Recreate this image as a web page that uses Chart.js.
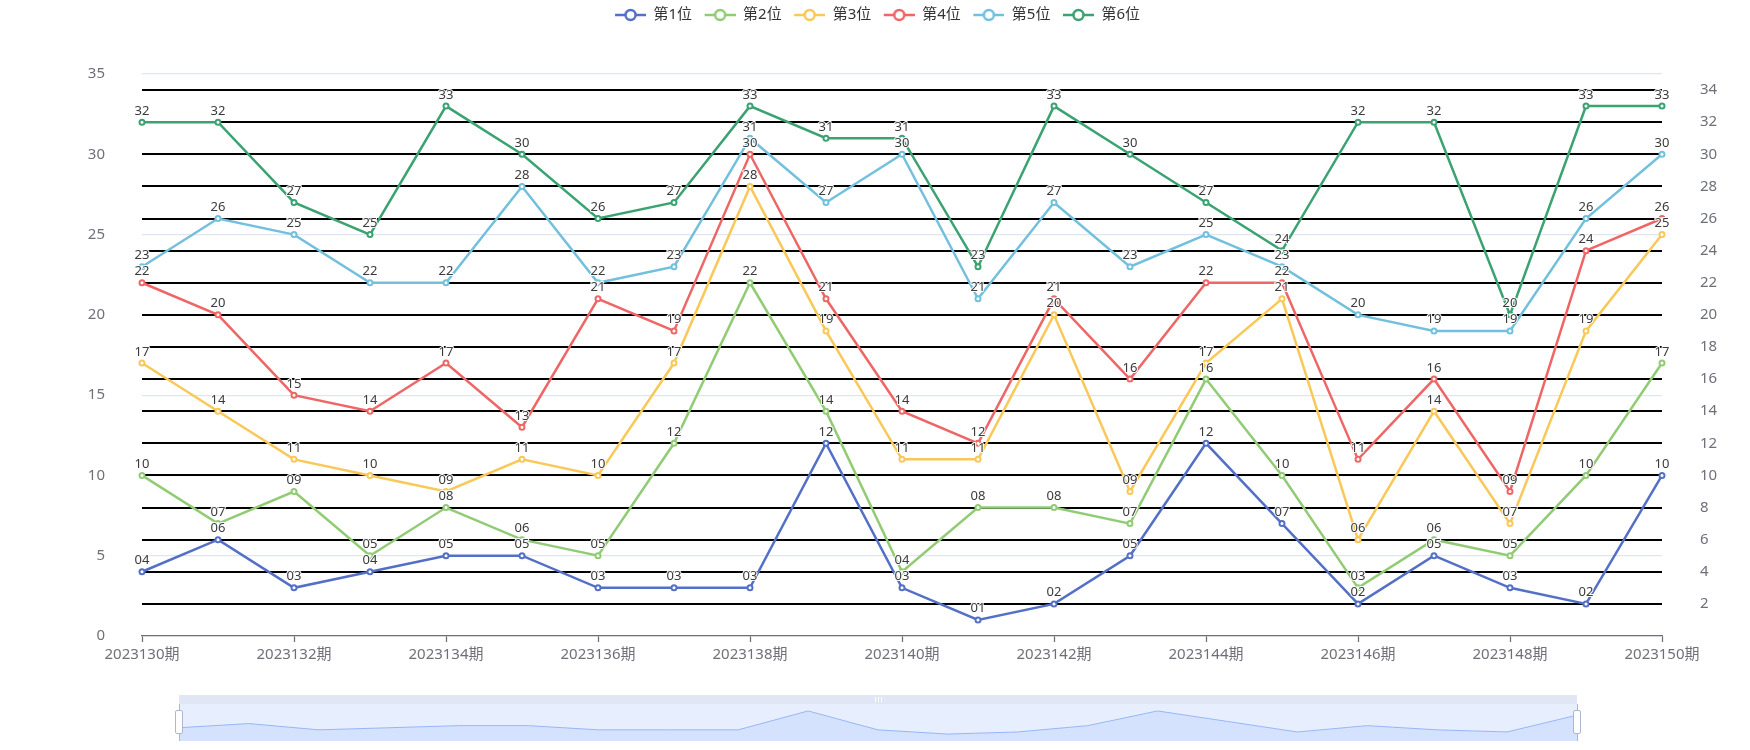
<!DOCTYPE html>
<html lang="zh-CN">
<head>
<meta charset="UTF-8">
<title>号码走势</title>
<script src="https://cdn.jsdelivr.net/npm/chart.js"></script>
<style>
  body { margin: 0; background: #fff; }
  #wrap { position: relative; width: 1750px; height: 750px; overflow: hidden; }
  #mainChart { position: absolute; left: 0; top: 0; }
  .zoom-band { position: absolute; left: 179px; top: 695px; width: 1398px; height: 9px; background: #e0e6f3; }
  .zoom-fill { position: absolute; left: 179px; top: 704px; width: 1398px; height: 37px; background: #e7efff; }
  #zoomChart { position: absolute; left: 179px; top: 704px; }
  .grip { position: absolute; top: 697px; width: 1px; height: 5px; background: #fff; }
  .hline { position: absolute; top: 704px; width: 1px; height: 37px; background: #acb8d1; }
  .handle { position: absolute; top: 710px; width: 6px; height: 22px; background: #fff; border: 1px solid #acb8d1; border-radius: 2px; }
</style>
</head>
<body>
<div id="wrap">
  <canvas id="mainChart" width="1750" height="750"></canvas>
  <div class="zoom-band"></div>
  <div class="zoom-fill"></div>
  <canvas id="zoomChart" width="1398" height="37"></canvas>
  <div class="grip" style="left:875px"></div>
  <div class="grip" style="left:878px"></div>
  <div class="grip" style="left:881px"></div>
  <div class="hline" style="left:179px"></div>
  <div class="hline" style="left:1577px"></div>
  <div class="handle" style="left:175px"></div>
  <div class="handle" style="left:1573px"></div>
</div>
<script>
  const periods = ['2023130期', '2023131期', '2023132期', '2023133期', '2023134期', '2023135期', '2023136期',
    '2023137期', '2023138期', '2023139期', '2023140期', '2023141期', '2023142期', '2023143期',
    '2023144期', '2023145期', '2023146期', '2023147期', '2023148期', '2023149期', '2023150期'];

  const pos1 = [4, 6, 3, 4, 5, 5, 3, 3, 3, 12, 3, 1, 2, 5, 12, 7, 2, 5, 3, 2, 10];
  const pos2 = [10, 7, 9, 5, 8, 6, 5, 12, 22, 14, 4, 8, 8, 7, 16, 10, 3, 6, 5, 10, 17];
  const pos3 = [17, 14, 11, 10, 9, 11, 10, 17, 28, 19, 11, 11, 20, 9, 17, 21, 6, 14, 7, 19, 25];
  const pos4 = [22, 20, 15, 14, 17, 13, 21, 19, 30, 21, 14, 12, 21, 16, 22, 22, 11, 16, 9, 24, 26];
  const pos5 = [23, 26, 25, 22, 22, 28, 22, 23, 31, 27, 30, 21, 27, 23, 25, 23, 20, 19, 19, 26, 30];
  const pos6 = [32, 32, 27, 25, 33, 30, 26, 27, 33, 31, 31, 23, 33, 30, 27, 24, 32, 32, 20, 33, 33];

  const seriesNames = ['第1位', '第2位', '第3位', '第4位', '第5位', '第6位'];
  const seriesData = [pos1, pos2, pos3, pos4, pos5, pos6];
  const colors = ['#5470c6', '#91cc75', '#fac858', '#ee6666', '#73c0de', '#3ba272'];

  // right axis tick values (black lines)
  const rightTicks = [2, 4, 6, 8, 10, 12, 14, 16, 18, 20, 22, 24, 26, 28, 30, 32, 34];

  const FONT = '"Noto Sans", "Noto Sans CJK SC", sans-serif';
  const axisGray = '#6E7079';

  // legend icon: line with hollow circle, like echarts
  function legendIcon(color) {
    const c = document.createElement('canvas');
    c.width = 36; c.height = 18;
    const g = c.getContext('2d');
    g.strokeStyle = color;
    g.lineWidth = 2.5;
    g.beginPath(); g.moveTo(5, 9); g.lineTo(36, 9); g.stroke();
    g.beginPath(); g.arc(20.5, 9, 5, 0, Math.PI * 2);
    g.fillStyle = '#fff'; g.fill(); g.stroke();
    return c;
  }
  const icons = colors.map(legendIcon);

  const legendSpace = {
    id: 'legendSpace',
    beforeInit(chart) {
      const fit = chart.legend.fit;
      chart.legend.fit = function () {
        fit.call(this);
        this.height = 74;
      };
    }
  };

  const pointLabels = {
    id: 'pointLabels',
    afterDatasetsDraw(chart) {
      const ctx = chart.ctx;
      ctx.save();
      ctx.font = '13px ' + FONT;
      ctx.textAlign = 'center';
      ctx.textBaseline = 'alphabetic';
      ctx.lineWidth = 2;
      ctx.lineJoin = 'round';
      ctx.strokeStyle = '#fff';
      ctx.fillStyle = '#3a3a3a';
      chart.data.datasets.forEach((ds, i) => {
        const meta = chart.getDatasetMeta(i);
        if (!chart.isDatasetVisible(i)) return;
        meta.data.forEach((pt, j) => {
          const txt = String(ds.data[j]).padStart(2, '0');
          ctx.strokeText(txt, pt.x, pt.y - 7.5);
          ctx.fillText(txt, pt.x, pt.y - 7.5);
        });
      });
      ctx.restore();
    }
  };

  new Chart(document.getElementById('mainChart'), {
    type: 'line',
    data: {
      labels: periods,
      datasets: seriesData.map((d, i) => ({
        label: seriesNames[i],
        data: d,
        borderColor: colors[i],
        backgroundColor: colors[i],
        borderWidth: 2.5,
        pointRadius: 2.5,
        pointBorderWidth: 2,
        pointBackgroundColor: '#fff',
        pointBorderColor: colors[i],
        tension: 0,
        yAxisID: 'y'
      }))
    },
    options: {
      responsive: false,
      animation: false,
      devicePixelRatio: 1,
      layout: { padding: 0 },
      plugins: {
        tooltip: { enabled: false },
        legend: {
          position: 'top',
          labels: {
            usePointStyle: true,
            pointStyleWidth: 36,
            padding: 7.5,
            color: '#333',
            font: { size: 15, family: FONT },
            generateLabels: chart => chart.data.datasets.map((ds, i) => ({
              text: ds.label,
              pointStyle: icons[i],
              fillStyle: colors[i],
              strokeStyle: colors[i],
              lineWidth: 0,
              fontColor: '#333',
              hidden: !chart.isDatasetVisible(i),
              datasetIndex: i
            }))
          }
        }
      },
      scales: {
        x: {
          type: 'category',
          offset: false,
          afterFit: s => { s.height = 114; },
          border: { color: axisGray, width: 1.25 },
          grid: {
            drawOnChartArea: false,
            tickLength: 6,
            tickWidth: 1.25,
            tickColor: c => (c.index % 2 === 0 ? axisGray : 'rgba(0,0,0,0)')
          },
          ticks: {
            autoSkip: false,
            maxRotation: 0,
            padding: 4,
            color: axisGray,
            font: { size: 15, family: FONT },
            callback: (v, i) => (i % 2 === 0 ? periods[i] : '')
          }
        },
        y: {
          position: 'left',
          min: 0,
          max: 35,
          afterFit: s => { s.width = 142; },
          border: { display: false },
          grid: { color: '#E0E6F1', lineWidth: 1.25, drawTicks: false },
          ticks: { stepSize: 5, padding: 37, color: axisGray, font: { size: 15, family: FONT } }
        },
        y2: {
          position: 'right',
          min: 0,
          max: 35,
          afterFit: s => { s.width = 88; },
          afterBuildTicks: s => { s.ticks = rightTicks.map(v => ({ value: v })); },
          border: { display: false },
          grid: { color: '#000', lineWidth: 2, drawTicks: false },
          ticks: { padding: 38, color: axisGray, font: { size: 15, family: FONT } }
        }
      }
    },
    plugins: [legendSpace, pointLabels]
  });

  // dataZoom slider shadow (first series)
  new Chart(document.getElementById('zoomChart'), {
    type: 'line',
    data: {
      labels: periods,
      datasets: [{
        data: pos1,
        borderColor: 'rgba(143,176,247,0.9)',
        backgroundColor: 'rgba(143,176,247,0.2)',
        borderWidth: 1,
        pointRadius: 0,
        fill: 'start',
        tension: 0
      }]
    },
    options: {
      responsive: false,
      animation: false,
      devicePixelRatio: 1,
      layout: { padding: 0 },
      plugins: { legend: { display: false }, tooltip: { enabled: false } },
      scales: {
        x: { display: false, offset: false },
        y: { display: false, min: -2.3, max: 15.3 }
      }
    }
  });
</script>
</body>
</html>
